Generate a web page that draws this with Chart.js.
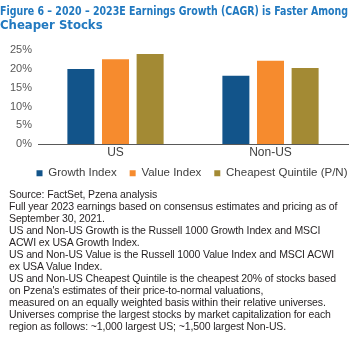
<!DOCTYPE html>
<html>
<head>
<meta charset="utf-8">
<script src="https://cdn.jsdelivr.net/npm/chart.js@4.4.1/dist/chart.umd.min.js"></script>
<style>
  body { margin: 0; background: #fff; }
  #wrap { position: relative; width: 356px; height: 195px; }
  #notes {
    position: absolute;
    top: 188px;
    left: 9px;
    font-family: "Liberation Sans", Arial, sans-serif;
    font-size: 10.5px;
    line-height: 12px;
    color: #231f20;
    white-space: nowrap;
    letter-spacing: -0.12px;
  }
</style>
</head>
<body>
<div id="wrap"><canvas id="graph1" width="356" height="195"></canvas></div>
<div id="notes">
Source: FactSet, Pzena analysis<br>
Full year 2023 earnings based on consensus estimates and pricing as of<br>
September 30, 2021.<br>
US and Non-US Growth is the Russell 1000 Growth Index and MSCI<br>
ACWI ex USA Growth Index.<br>
US and Non-US Value is the Russell 1000 Value Index and MSCI ACWI<br>
ex USA Value Index.<br>
US and Non-US Cheapest Quintile is the cheapest 20% of stocks based<br>
on Pzena's estimates of their price-to-normal valuations,<br>
measured on an equally weighted basis within their relative universes.<br>
Universes comprise the largest stocks by market capitalization for each<br>
region as follows: ~1,000 largest US; ~1,500 largest Non-US.
</div>
<script>
var regions = ['US', 'Non-US'];
var growthIndex = [20.0, 18.2];
var valueIndex = [22.6, 22.2];
var cheapestQuintile = [24.0, 20.3];
var yTicks = [0, 5, 10, 15, 20, 25];

// move the legend up under the category labels and right under the plot
var legendNudge = {
  id: 'legendNudge',
  afterLayout: function(chart) {
    var lg = chart.legend;
    lg.top -= 6; lg.bottom -= 6;
    lg.left += 18; lg.right += 18;
  }
};

document.addEventListener('DOMContentLoaded', function() {
  var ctx = document.querySelector("#graph1").getContext("2d");
  var chart = new Chart(ctx, {
    type: "bar",
    data: {
      labels: regions,
      datasets: [{
        label: "Growth Index",
        data: growthIndex,
        backgroundColor: '#12548a',
      },{
        label: "Value Index",
        data: valueIndex,
        backgroundColor: '#f68b2e',
      },{
        label: "Cheapest Quintile (P/N)",
        data: cheapestQuintile,
        backgroundColor: '#a38a34',
      }],
    },
    plugins: [legendNudge],
    options: {
      responsive: false,
      animation: false,
      categoryPercentage: 0.67,
      barPercentage: 0.78,
      layout: { padding: { left: 0, right: 8 } },
      plugins: {
        title: {
          display: true,
          text: ['Figure 6 \u2013 2020 \u2013 2023E Earnings Growth (CAGR) is Faster Among', 'Cheaper Stocks'],
          align: 'start',
          color: '#2179c0',
          font: { family: '"Liberation Sans Narrow", "DejaVu Sans Condensed", sans-serif', size: 13, weight: 'bold', lineHeight: 1.05 },
          padding: { top: 5, bottom: 18 }
        },
        legend: {
          position: 'bottom',
          labels: {
            boxWidth: 6,
            boxHeight: 6,
            padding: 13,
            color: '#404040',
            font: { family: '"Liberation Sans", Arial, sans-serif', size: 11.5 }
          }
        },
        tooltip: { enabled: false }
      },
      scales: {
        x: {
          grid: { display: false, drawTicks: false },
          border: { color: '#595959' },
          ticks: { color: '#404040', padding: 1, font: { family: '"Liberation Sans", Arial, sans-serif', size: 12 } }
        },
        y: {
          min: 0,
          max: 25,
          afterBuildTicks: function(axis) { axis.ticks = yTicks.map(function(v) { return { value: v }; }); },
          afterFit: function(axis) { axis.width = 38; },
          grid: { display: false, drawTicks: false },
          border: { display: false },
          ticks: {
            autoSkip: false,
            color: '#595959',
            padding: 6,
            font: { family: '"Liberation Sans", Arial, sans-serif', size: 11 },
            callback: function(v) { return v + '%'; }
          }
        }
      }
    }
  });
});
</script>
</body>
</html>
